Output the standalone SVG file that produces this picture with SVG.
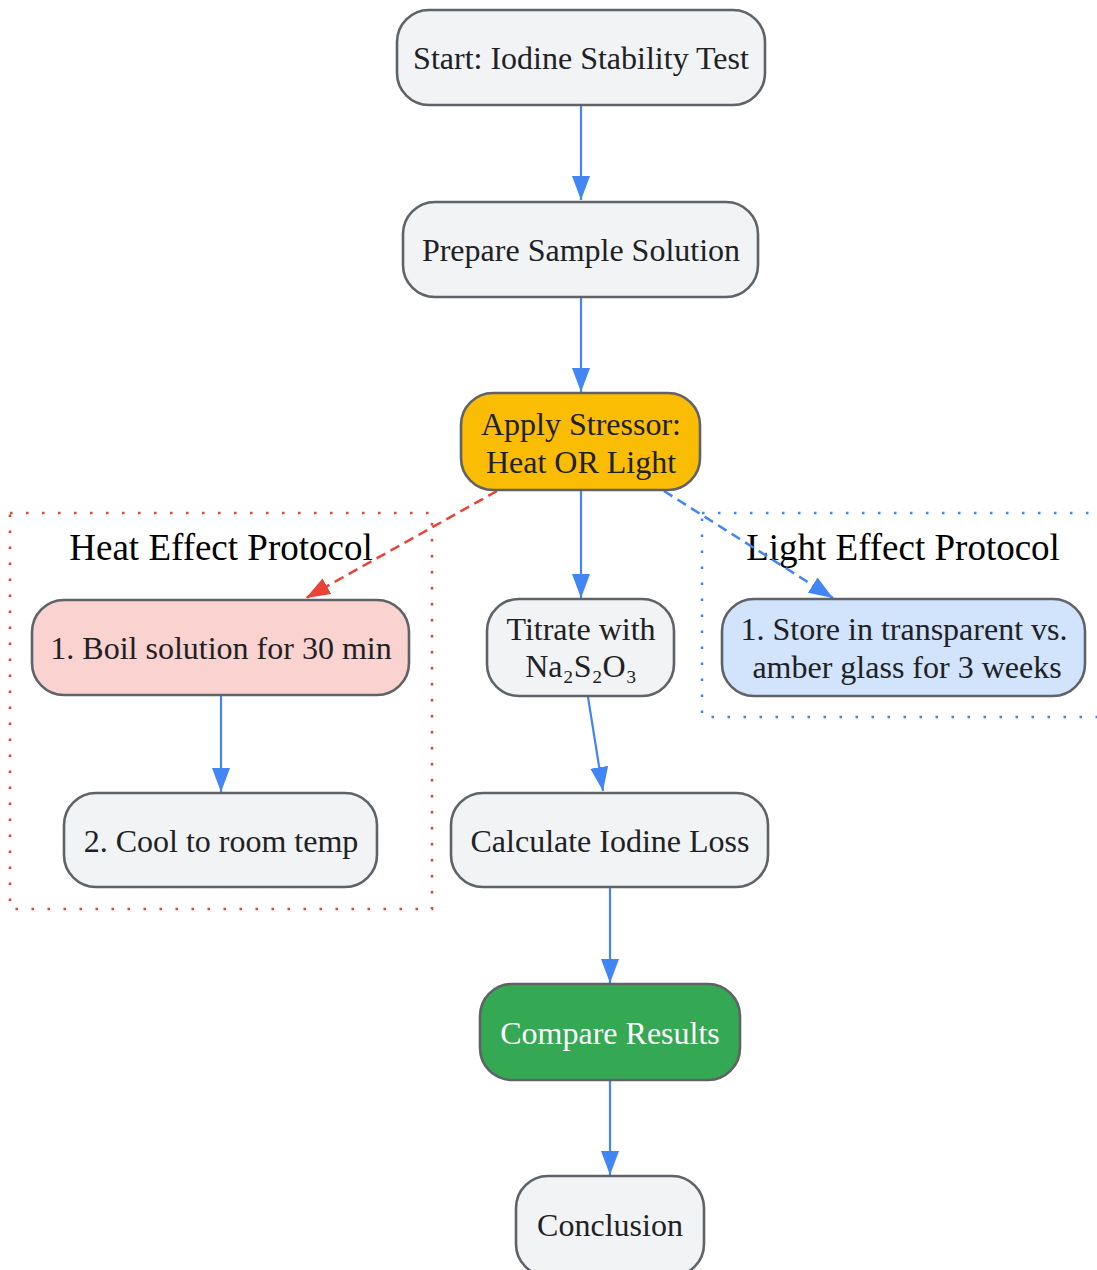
<svg xmlns="http://www.w3.org/2000/svg" width="1097" height="1270" viewBox="0 0 1097 1270">
<style>
.n{fill:#f1f3f4;stroke:#5f6368;stroke-width:2.6}
.t{font-family:"Liberation Serif","Times New Roman",serif;font-size:32px;fill:#202124;text-anchor:middle;dominant-baseline:central}
.ct{font-family:"Liberation Serif","Times New Roman",serif;font-size:37px;fill:#000;text-anchor:middle;dominant-baseline:central}
.e{fill:none;stroke:#4285f4;stroke-width:2.2}
.er{fill:none;stroke:#ea4335;stroke-width:2.5;stroke-dasharray:10,6}
.eb{fill:none;stroke:#4285f4;stroke-width:2.5;stroke-dasharray:10,6}
.cl{fill:none;stroke-width:2.5;stroke-dasharray:2.5,13.5}
</style>
<defs>
<marker id="ab" markerUnits="userSpaceOnUse" markerWidth="26" markerHeight="20" refX="24" refY="10" orient="auto"><path d="M0,1 L24,10 L0,19 Z" fill="#4285f4"/></marker>
<marker id="ar" markerUnits="userSpaceOnUse" markerWidth="26" markerHeight="20" refX="24" refY="10" orient="auto"><path d="M0,1 L24,10 L0,19 Z" fill="#ea4335"/></marker>
</defs>
<rect width="1097" height="1270" fill="#fff"/>
<g id="cluster-heat">
<rect class="cl" x="10" y="513" width="422" height="396" stroke="#ea4335"/>
<text class="ct" x="221" y="547">Heat Effect Protocol</text>
</g>
<g id="cluster-light">
<rect class="cl" x="702" y="513" width="400" height="204" stroke="#4285f4"/>
<text class="ct" x="903" y="547">Light Effect Protocol</text>
</g>
<g id="edges">
<path class="e" d="M581,105 L581,200" marker-end="url(#ab)"/>
<path class="e" d="M581,297 L581,392" marker-end="url(#ab)"/>
<path class="e" d="M581,490 L581,598" marker-end="url(#ab)"/>
<path class="er" d="M497,491 L306,598" marker-end="url(#ar)"/>
<path class="eb" d="M664,491 L833,598" marker-end="url(#ab)"/>
<path class="e" d="M221,695 L221,792" marker-end="url(#ab)"/>
<path class="e" d="M588,697 L603,791" marker-end="url(#ab)"/>
<path class="e" d="M610,887 L610,983" marker-end="url(#ab)"/>
<path class="e" d="M610,1080 L610,1175" marker-end="url(#ab)"/>
</g>
<g id="start"><rect class="n" x="397" y="10" width="368" height="95" rx="32"/><text class="t" x="581" y="58">Start: Iodine Stability Test</text></g>
<g id="prepare"><rect class="n" x="403" y="202" width="355" height="95" rx="32"/><text class="t" x="581" y="250">Prepare Sample Solution</text></g>
<g id="apply"><rect class="n" x="461" y="393" width="239" height="97" rx="32" style="fill:#fbbc04"/><text class="t" x="581" y="424">Apply Stressor:</text><text class="t" x="581" y="462">Heat OR Light</text></g>
<g id="boil"><rect class="n" x="32" y="600" width="377" height="95" rx="32" style="fill:#fad2cf"/><text class="t" x="221" y="648">1. Boil solution for 30 min</text></g>
<g id="cool"><rect class="n" x="64" y="793" width="313" height="94" rx="32"/><text class="t" x="221" y="841">2. Cool to room temp</text></g>
<g id="titrate"><rect class="n" x="487" y="599" width="187" height="97" rx="32"/><text class="t" x="581" y="629">Titrate with</text><text class="t" x="581" y="666">Na₂S₂O₃</text></g>
<g id="store"><rect class="n" x="722" y="599" width="363" height="97" rx="32" style="fill:#d2e3fc"/><text class="t" x="904" y="629">1. Store in transparent vs.</text><text class="t" x="907" y="667">amber glass for 3 weeks</text></g>
<g id="calc"><rect class="n" x="451" y="793" width="317" height="94" rx="32"/><text class="t" x="610" y="841">Calculate Iodine Loss</text></g>
<g id="compare"><rect class="n" x="480" y="984" width="260" height="96" rx="32" style="fill:#34a853"/><text class="t" x="610" y="1033" style="fill:#fff">Compare Results</text></g>
<g id="conclusion"><rect class="n" x="516" y="1176" width="188" height="100" rx="32"/><text class="t" x="610" y="1225">Conclusion</text></g>
</svg>
